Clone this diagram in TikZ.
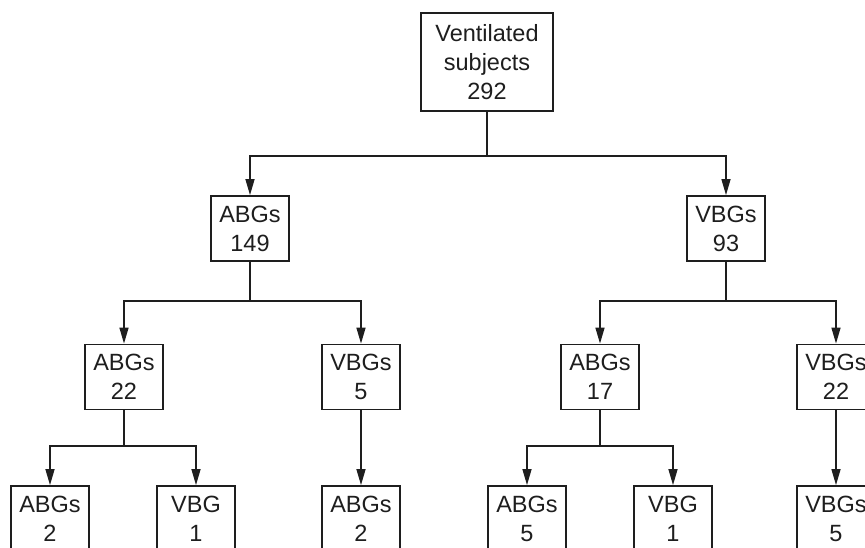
\documentclass[tikz,border=0pt]{standalone}
\usepackage{fontspec}
\setmainfont{Liberation Sans}
\usetikzlibrary{arrows.meta}
\definecolor{ink}{HTML}{1E1E1E}
\begin{document}
\begin{tikzpicture}[x=1pt,y=-1pt,
  box/.style={draw=ink,line width=1.8pt,text=ink,minimum width=78pt,minimum height=65pt,inner sep=0pt,align=center,font=\fontsize{23.5}{29}\selectfont},
  link/.style={draw=ink,line width=1.4pt},
  arr/.style={link,-{Triangle[length=16pt,width=9pt]}}]
\useasboundingbox (0,0) rectangle (865,548);
\clip (0,0) rectangle (865,548);
\fill[white] (0,0) rectangle (865,548);
\node[box,minimum width=132pt,minimum height=98pt] (top) at (487,62) {Ventilated\\subjects\\292};
\node[box] (abgA) at (250,228.5) {ABGs\\149};
\node[box] (vbgA) at (726,228.5) {VBGs\\93};
\node[box] (abgB) at (124,377) {ABGs\\22};
\node[box] (vbgB) at (361,377) {VBGs\\5};
\node[box] (abgC) at (600,377) {ABGs\\17};
\node[box] (vbgC) at (836,377) {VBGs\\22};
\node[box] (l1) at (50,518.5) {ABGs\\2};
\node[box] (l2) at (196,518.5) {VBG\\1};
\node[box] (l3) at (361,518.5) {ABGs\\2};
\node[box] (l4) at (527,518.5) {ABGs\\5};
\node[box] (l5) at (673,518.5) {VBG\\1};
\node[box] (l6) at (836,518.5) {VBGs\\5};
\coordinate (j0) at (487,156);
\coordinate (j1) at (250,301);
\coordinate (j2) at (726,301);
\coordinate (j3) at (124,446);
\coordinate (j4) at (600,446);
\draw[link] (top) -- (j0);
\draw[arr] (j0) -| (abgA);
\draw[arr] (j0) -| (vbgA);
\draw[link] (abgA) -- (j1);
\draw[arr] (j1) -| (abgB);
\draw[arr] (j1) -| (vbgB);
\draw[link] (vbgA) -- (j2);
\draw[arr] (j2) -| (abgC);
\draw[arr] (j2) -| (vbgC);
\draw[link] (abgB) -- (j3);
\draw[arr] (j3) -| (l1);
\draw[arr] (j3) -| (l2);
\draw[arr] (vbgB) -- (l3);
\draw[link] (abgC) -- (j4);
\draw[arr] (j4) -| (l4);
\draw[arr] (j4) -| (l5);
\draw[arr] (vbgC) -- (l6);
\end{tikzpicture}
\end{document}
